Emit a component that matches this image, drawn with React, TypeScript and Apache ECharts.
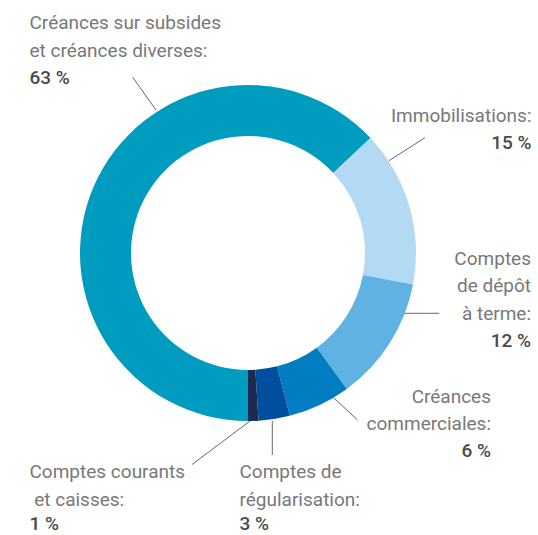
import React, { useEffect, useRef } from "react";
import * as echarts from "echarts";

// ---- Data ----
const categories: string[] = [
  "Créances sur subsides et créances diverses",
  "Immobilisations",
  "Comptes de dépôt à terme",
  "Créances commerciales",
  "Comptes de régularisation",
  "Comptes courants et caisses",
];
const labelLines: string[][] = [
  ["Créances sur subsides", "et créances diverses:"],
  ["Immobilisations:"],
  ["Comptes", "de dépôt", "à terme:"],
  ["Créances", "commerciales:"],
  ["Comptes de", "régularisation:"],
  ["Comptes courants", " et caisses:"],
];
const values: number[] = [63, 15, 12, 6, 3, 1];
const colors: string[] = ["#009CC0", "#B3DAF2", "#60B2E3", "#007CC2", "#004E9E", "#1C2B4F"];

// ---- Label placement (annotation layout, pixels) ----
const labelLayouts = [
  { x: 29.5, y: 9.2, align: "left", last: "v", line: [[156, 110], [132.7, 77.3]] },
  { x: 531.5, y: 101.6, align: "right", last: "v", line: [[389, 160.7], [425, 137.7]] },
  { x: 531, y: 244.9, align: "right", last: "v", line: [[404, 313.3], [439.3, 313.3]] },
  { x: 491, y: 382.6, align: "right", last: "v", line: [[334, 398], [357.5, 420]] },
  { x: 239.5, y: 458.2, align: "left", last: "w", line: [[272.3, 421], [272.3, 455]] },
  { x: 29.5, y: 458.2, align: "left", last: "w", line: [[250, 421], [192, 464.5]] },
];

const FONT = "Roboto, 'Noto Sans', sans-serif";
const FS = 19;
const LH = 27.3;

export default function App() {
  const ref = useRef<HTMLDivElement>(null);
  useEffect(() => {
    if (!ref.current) return;
    const chart = echarts.init(ref.current, undefined, { renderer: "svg" });
    chart.setOption({
      animation: false,
      backgroundColor: "#ffffff",
      series: [
        {
          type: "pie",
          center: [248, 253],
          radius: [117, 168],
          startAngle: 270,
          clockwise: true,
          avoidLabelOverlap: false,
          silent: true,
          emphasis: { disabled: true },
          data: categories.map((name, i) => ({
            name,
            value: values[i],
            itemStyle: { color: colors[i] },
          })),
          label: {
            show: true,
            position: "outside",
            overflow: "none",
            formatter: (p: any) =>
              labelLines[p.dataIndex].map((l) => `{t|${l}}`).join("\n") +
              `\n{${labelLayouts[p.dataIndex].last}|${values[p.dataIndex]} %}`,
            rich: {
              t: { fontFamily: FONT, fontSize: FS, lineHeight: LH, color: "#787878" },
              v: { fontFamily: FONT, fontSize: FS, lineHeight: LH, color: "#4a4a4a", fontWeight: 500 },
              w: { fontFamily: FONT, fontSize: FS, lineHeight: 22, color: "#4a4a4a", fontWeight: 500 },
            },
          },
          labelLine: {
            show: true,
            length: 20,
            length2: 0,
            lineStyle: { color: "#666666", width: 1 },
          },
          labelLayout: (params: any) => {
            const l = labelLayouts[params.dataIndex];
            return {
              x: l.x,
              y: l.y,
              align: l.align,
              verticalAlign: "top",
              labelLinePoints: l.line,
            };
          },
        },
      ],
    });
    return () => chart.dispose();
  }, []);
  return (
    <div
      ref={ref}
      style={{ position: "fixed", left: 0, top: 0, width: 538, height: 535 }}
    />
  );
}
